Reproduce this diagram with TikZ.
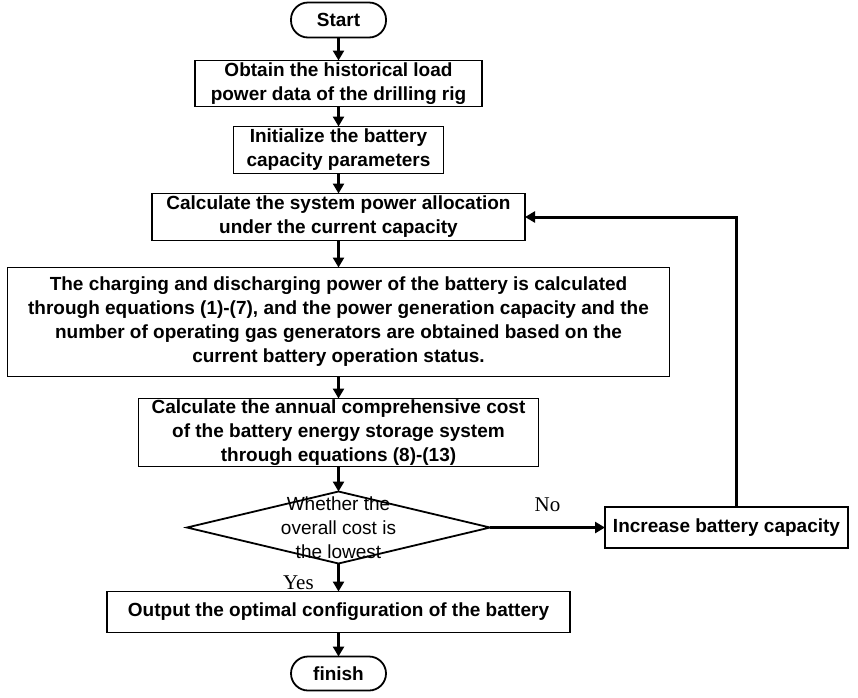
\documentclass[tikz,border=0pt]{standalone}
\usepackage{fontspec}
\setmainfont{Liberation Sans}
\newfontfamily\ynfont{Liberation Serif}
\usetikzlibrary{positioning, shapes.geometric, arrows.meta}

\begin{document}
\begin{tikzpicture}[x=1pt, y=-1pt, node distance=20pt,
        box/.style={rectangle, draw, line width=1.8pt, align=center, inner sep=0pt, outer sep=0pt,
                font=\bfseries\fontsize{19}{24}\selectfont},
        terminal/.style={box, rounded corners=17pt, minimum width=95pt, minimum height=35pt},
        decision/.style={diamond, draw, line width=1.8pt, minimum width=303pt, minimum height=72pt, inner sep=0pt, outer sep=0pt},
        flow/.style={line width=3pt, -{Triangle[length=10pt, width=11pt]}},
        yesno/.style={font=\ynfont\fontsize{21}{24}\selectfont}]
        \useasboundingbox (0,0) rectangle (858,697);

        % Nodes
        \node[terminal] (start) at (338.5,20) {Start};
        \node[box, minimum width=287pt, minimum height=46pt] (obtain) [below=23pt of start] {Obtain the historical load\\power data of the drilling rig};
        \node[box, minimum width=210pt, minimum height=47pt] (init) [below=of obtain] {Initialize the battery\\capacity parameters};
        \node[box, minimum width=373pt, minimum height=47pt] (alloc) [below=of init] {Calculate the system power allocation\\under the current capacity};
        \node[box, minimum width=662pt, minimum height=109pt] (charge) [below=27pt of alloc] {The charging and discharging power of the battery is calculated\\through equations (1)-(7), and the power generation capacity and the\\number of operating gas generators are obtained based on the\\current battery operation status.};
        \node[box, minimum width=400pt, minimum height=68pt] (cost) [below=22pt of charge] {Calculate the annual comprehensive cost\\of the battery energy storage system\\through equations (8)-(13)};
        \node[decision] (decide) [below=25pt of cost] {};
        \node[align=center, inner sep=0pt, font=\fontsize{19}{24}\selectfont] (decidetext) at (decide) {Whether the\\overall cost is\\the lowest};
        \node[box, minimum width=243pt, minimum height=41pt] (incr) [right=115pt of decide] {Increase battery capacity};
        \node[box, minimum width=463pt, minimum height=41pt] (output) [below=28pt of decide] {Output the optimal configuration of the battery};
        \node[terminal, minimum height=34pt] (finish) [below=24pt of output] {finish};
        \coordinate (turn) at (736,216);

        % Edges
        \foreach \i/\j in {start/obtain, obtain/init, init/alloc, alloc/charge, charge/cost, cost/decide, output/finish} {
                \draw[flow] (\i) -- (\j);
        }
        \draw[flow] (decide) -- node[yesno, midway, above=11pt] {No} (incr);
        \draw[flow] (decide) -- node[yesno, pos=0.68, left=20pt] {Yes} (output);

        % Back to the allocation step
        \draw[flow] (incr.north -| turn) |- (alloc.east);
\end{tikzpicture}
\end{document}
